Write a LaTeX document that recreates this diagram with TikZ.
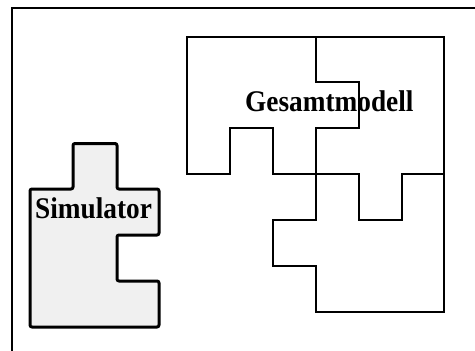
\documentclass[tikz,border=0pt]{standalone}
\usepackage{fontspec}
\setmainfont{Liberation Serif}
\begin{document}
\begin{tikzpicture}[x=1pt,y=-1pt,
  piece/.style={draw=black,line width=1.6pt,line join=miter},
  simpiece/.style={draw=black,line width=3pt,fill=black!6,rounded corners=2pt,line join=round},
  title/.style={font=\fontsize{30}{32}\selectfont\bfseries,inner sep=0pt,anchor=base west}]
\useasboundingbox (0,0) rectangle (475,351);
\begin{scope}
\clip (0,0) rectangle (475,351);
% outer frame, running off the page at right and bottom
\draw[line width=2pt] (11.5,7.5) rectangle (485,365);
\end{scope}

% upper left piece
\draw[piece] (187,37) -- (316,37) -- (316,82) -- (359,82) -- (359,128) -- (316,128)
  -- (316,174) -- (273,174) -- (273,128) -- (230,128) -- (230,174) -- (187,174) -- cycle;
% upper right piece
\draw[piece] (316,37) -- (444,37) -- (444,174) -- (402,174) -- (402,220) -- (359,220)
  -- (359,174) -- (316,174);
% lower piece
\draw[piece] (444,174) -- (444,312) -- (316,312) -- (316,266) -- (273,266) -- (273,220)
  -- (316,220) -- (316,174);

% simulator piece
\draw[simpiece] (30,189) -- (73,189) -- (73,143.5) -- (117,143.5) -- (117,189) -- (159,189)
  -- (159,235) -- (117,235) -- (117,281) -- (159,281) -- (159,327) -- (30,327) -- cycle;

\node[title] (gm) at (245,111.5) {\scalebox{0.91}[1]{Gesamtmodell}};
\node[title] (sim) at (35,218) {\scalebox{0.91}[1]{Simulator}};
\end{tikzpicture}
\end{document}
